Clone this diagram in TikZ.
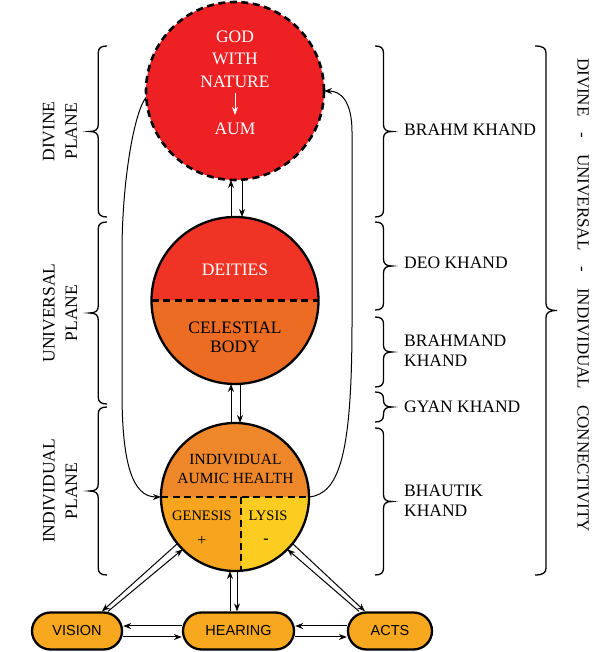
\documentclass[tikz,border=0pt]{standalone}
\usepackage{fontspec}
\setmainfont{Liberation Serif}
\newfontfamily\sensefont{Liberation Sans}
\usetikzlibrary{arrows.meta}
\definecolor{aumred}{RGB}{237,32,36}
\definecolor{deityred}{RGB}{239,52,38}
\definecolor{celestorange}{RGB}{236,108,36}
\definecolor{healthorange}{RGB}{238,135,42}
\definecolor{genesisorange}{RGB}{247,165,30}
\definecolor{lysisyellow}{RGB}{252,204,32}
\definecolor{senseorange}{RGB}{248,168,30}
\newcommand{\curly}[4]{%
  \pgfmathsetmacro{\cmid}{(#2+#3)/2}%
  \pgfmathsetmacro{\cc}{min(7,(#3-#2)/4)}%
  \pgfmathsetmacro{\ca}{0.35*(#4)}%
  \pgfmathsetmacro{\cs}{0.5*(#4)}%
  \pgfmathsetmacro{\cb}{0.65*(#4)}%
  \begin{scope}[shift={(#1,0)}]
    \draw[brc] (0,#3) .. controls (\ca,#3) and (\cs,#3-0.3*\cc) .. (\cs,#3-\cc)
      -- (\cs,\cmid+\cc) .. controls (\cs,\cmid+0.3*\cc) and (\cb,\cmid) .. (#4,\cmid)
      .. controls (\cb,\cmid) and (\cs,\cmid-0.3*\cc) .. (\cs,\cmid-\cc)
      -- (\cs,#2+\cc) .. controls (\cs,#2+0.3*\cc) and (\ca,#2) .. (0,#2);
  \end{scope}}
\begin{document}
\begin{tikzpicture}[x=1pt,y=1pt,>={Stealth[length=8pt,width=6pt]},
    link/.style={->,line width=1pt},
    planet/.style={circle,draw,line width=2.3pt,inner sep=0pt,outer sep=0pt},
    cut/.style={line width=2.6pt,dash pattern=on 7pt off 4.5pt},
    sense/.style={draw,line width=2.3pt,rounded corners=18.5pt,fill=senseorange,
      minimum height=37pt,inner sep=0pt,font=\sensefont\fontsize{14.5}{17}\selectfont},
    brc/.style={line width=1.3pt},
    side/.style={inner sep=0pt,align=center,font=\fontsize{17.5}{22.5}\selectfont}]
  \useasboundingbox (0,0) rectangle (600,652);
  \node[planet,cut,minimum size=178pt,fill=aumred] (top) at (235,561) {};
  \node[planet,minimum size=167pt,fill=celestorange,path picture={
      \fill[deityred] (path picture bounding box.west) rectangle (path picture bounding box.north east);
      \draw[cut] (path picture bounding box.west) -- (path picture bounding box.east);
    }] (mid) at (235,351.5) {};
  \node[planet,minimum size=148pt,fill=genesisorange,path picture={
      \fill[healthorange] (path picture bounding box.west) rectangle (path picture bounding box.north east);
      \fill[lysisyellow] ([xshift=6pt]path picture bounding box.center) rectangle (path picture bounding box.south east);
      \draw[cut] (path picture bounding box.west) -- (path picture bounding box.east);
      \draw[cut] ([xshift=6pt]path picture bounding box.center) -- ([xshift=6pt]path picture bounding box.south);
    }] (bot) at (235,155) {};
  \node[sense,minimum width=90pt] (vision) at (77,21) {VISION};
  \node[sense,minimum width=111pt] (hearing) at (238.5,21) {HEARING};
  \node[sense,minimum width=84pt] (acts) at (390,21) {ACTS};

  \node[side,text=white] (gwn) at (235,593) {GOD\\WITH\\NATURE};
  \node[side,text=white] (aum) at (235,523) {AUM};
  \draw[->,white,line width=0.9pt,shorten <=5pt,shorten >=8pt] (gwn) -- (aum);
  \node[side,text=white] (deities) at (235,382) {DEITIES};
  \node[side,font=\fontsize{17.5}{19.5}\selectfont] (celestial) at (235,314.5) {CELESTIAL\\BODY};
  \node[side,font=\fontsize{15.5}{19}\selectfont] (aumic) at (235.5,183.5) {INDIVIDUAL\\AUMIC HEALTH};
  \node[side,font=\fontsize{14.5}{17}\selectfont] (genesis) at (202,136) {GENESIS};
  \node[side,font=\fontsize{16}{17}\selectfont] (plus) at (202,111) {+};
  \node[side,font=\fontsize{14.5}{17}\selectfont] (lysis) at (268,136) {LYSIS};
  \node[side,font=\fontsize{16}{17}\selectfont] (minus) at (266,111) {-};

  \draw[link] ([xshift=-4pt]mid.north) -- ([xshift=-4pt]top.south);
  \draw[link] ([xshift=7pt]top.south) -- ([xshift=7pt]mid.north);
  \draw[link] ([xshift=-4pt]bot.north) -- ([xshift=-4pt]mid.south);
  \draw[link] ([xshift=5pt]mid.south) -- ([xshift=5pt]bot.north);
  \draw[link] ([xshift=-5pt]bot.south |- hearing.north) -- ([xshift=-5pt]bot.south);
  \draw[link] ([xshift=2pt]bot.south) -- ([xshift=2pt]bot.south |- hearing.north);
  \draw[link] ([yshift=5pt]hearing.west) -- ([yshift=5pt]vision.east);
  \draw[link] ([yshift=-6pt]vision.east) -- ([yshift=-6pt]hearing.west);
  \draw[link] ([yshift=5pt]acts.west) -- ([yshift=5pt]hearing.east);
  \draw[link] ([yshift=-6pt]hearing.east) -- ([yshift=-6pt]acts.west);
  \draw[link] (bot.219) -- ([xshift=25pt]vision.north);
  \draw[link] ([xshift=31pt]vision.north) -- (bot.225);
  \draw[link] (bot.321) -- ([xshift=-25pt]acts.north);
  \draw[link] ([xshift=-31pt]acts.north) -- (bot.315);
  \draw[link] (top.184) .. controls (134,540) and (122,470) .. (122,400) -- (122,260)
    .. controls (122,190) and (132,155) .. (bot.west);
  \draw[link] (bot.east) .. controls (340,158) and (352,200) .. (352,330) -- (352,520)
    .. controls (352,552) and (340,561) .. (top.east);

  \curly{107}{435}{606}{-17.5}
  \curly{107}{248}{430}{-17.5}
  \curly{107}{77}{245}{-17.5}
  \node[side,rotate=90] (divine) at (60,520.5) {DIVINE\\PLANE};
  \node[side,rotate=90] (universal) at (60,339) {UNIVERSAL\\PLANE};
  \node[side,rotate=90] (individual) at (60,161) {INDIVIDUAL\\PLANE};

  \curly{375}{435}{606}{17}
  \curly{375}{342}{430}{17}
  \curly{375}{265}{335}{17}
  \curly{375}{230}{260}{17}
  \curly{375}{77}{224}{17}
  \node[side,anchor=west,align=left] (brahm) at (404,522) {BRAHM KHAND};
  \node[side,anchor=west,align=left] (deo) at (404,389) {DEO KHAND};
  \node[side,anchor=west,align=left,font=\fontsize{17.5}{20}\selectfont] (brahmand) at (404,301) {BRAHMAND\\KHAND};
  \node[side,anchor=west,align=left] (gyan) at (404,245) {GYAN KHAND};
  \node[side,anchor=west,align=left,font=\fontsize{17.5}{20}\selectfont] (bhautik) at (404,151) {BHAUTIK\\KHAND};

  \curly{535}{77}{606}{22}
  \node[side,rotate=-90,font=\fontsize{17}{19}\selectfont] (conn) at (583,357)
    {DIVINE\hspace{16pt}-\hspace{16pt}UNIVERSAL\hspace{16pt}-\hspace{16pt}INDIVIDUAL\hspace{16pt}CONNECTIVITY};
\end{tikzpicture}
\end{document}
